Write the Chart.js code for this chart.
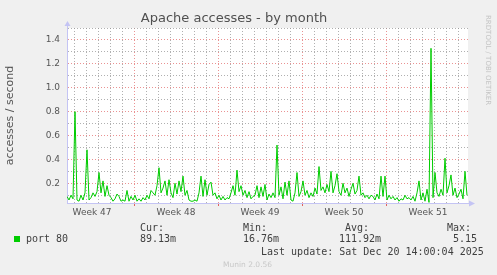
<!DOCTYPE html>
<html lang="en">
<head>
<meta charset="UTF-8">
<title>Apache accesses - by month</title>
<script src="https://cdn.jsdelivr.net/npm/chart.js"></script>
<style>
  body { margin: 0; background: #f0f0f0; }
  #wrap { position: relative; width: 497px; height: 275px; background: #f0f0f0; overflow: hidden; }
  #wrap canvas { position: absolute; left: 0; top: 0; }
  .t { position: absolute; white-space: pre; line-height: 12px; }
  .mono { font-family: 'DejaVu Sans Mono', monospace; font-size: 10px; color: #404040; }
  .swatch { position: absolute; left: 14px; top: 236px; width: 6px; height: 6px; background: #00cc00; }
  .brand { position: absolute; left: 484px; top: 15px; writing-mode: vertical-rl; font-family: 'DejaVu Sans', sans-serif; font-size: 7px; color: #c4c4c4; white-space: pre; }
  .munin { font-family: 'DejaVu Sans', sans-serif; font-size: 7.5px; color: #c8c8c8; }
</style>
</head>
<body>
<div id="wrap">
  <canvas id="grafico" width="497" height="275"></canvas>
  <div class="brand">RRDTOOL / TOBI OETIKER</div>
  <div class="t mono" style="left:140px; top:222px;">Cur:</div>
  <div class="t mono" style="left:243px; top:222px;">Min:</div>
  <div class="t mono" style="left:345px; top:222px;">Avg:</div>
  <div class="t mono" style="left:447px; top:222px;">Max:</div>
  <div class="swatch"></div>
  <div class="t mono" style="left:26px; top:233px;">port 80</div>
  <div class="t mono" id="cur" style="left:140px; top:233px;"></div>
  <div class="t mono" id="min" style="left:243px; top:233px;"></div>
  <div class="t mono" id="avg" style="left:339px; top:233px;"></div>
  <div class="t mono" id="max" style="left:453px; top:233px;"></div>
  <div class="t mono" style="left:261px; top:246px;">Last update: Sat Dec 20 14:00:04 2025</div>
  <div class="t munin" style="left:223px; top:259px;">Munin 2.0.56</div>
</div>

<script>
    // dados (um ponto a cada 4 horas)
    const stepHours = 4;
    const spanHours = 802;
    const weekLabels = ['Week 47', 'Week 48', 'Week 49', 'Week 50', 'Week 51'];
    const weekMidHours = [50, 218, 386, 554, 722];
    const weekStartHours = [134, 302, 470, 638];
    const firstDayHour = 14;
    const yTicks = [0.1, 0.2, 0.3, 0.4, 0.5, 0.6, 0.7, 0.8, 0.9, 1.0, 1.1, 1.2, 1.3, 1.4, 1.5];
    const legendValues = { cur: '89.13m', min: '16.76m', avg: '111.92m', max: '5.15' };

    const accesses = [
        0.09, 0.06, 0.10, 0.07, 0.80, 0.06, 0.05, 0.10, 0.06, 0.12,
        0.48, 0.06, 0.08, 0.12, 0.09, 0.13, 0.29, 0.12, 0.22, 0.09,
        0.18, 0.10, 0.08, 0.05, 0.07, 0.11, 0.09, 0.05, 0.06, 0.05,
        0.14, 0.05, 0.09, 0.06, 0.10, 0.05, 0.07, 0.05, 0.08, 0.06,
        0.10, 0.07, 0.14, 0.12, 0.10, 0.18, 0.33, 0.12, 0.16, 0.22,
        0.10, 0.23, 0.12, 0.08, 0.20, 0.11, 0.22, 0.13, 0.26, 0.10,
        0.14, 0.06, 0.05, 0.05, 0.06, 0.05, 0.12, 0.26, 0.09, 0.23,
        0.10, 0.19, 0.21, 0.10, 0.12, 0.07, 0.10, 0.06, 0.09, 0.06,
        0.08, 0.07, 0.12, 0.18, 0.10, 0.31, 0.13, 0.18, 0.10, 0.14,
        0.08, 0.13, 0.07, 0.09, 0.10, 0.18, 0.08, 0.17, 0.09, 0.19,
        0.06, 0.11, 0.08, 0.12, 0.08, 0.52, 0.10, 0.17, 0.07, 0.21,
        0.10, 0.22, 0.06, 0.05, 0.12, 0.29, 0.09, 0.13, 0.22, 0.10,
        0.14, 0.08, 0.12, 0.09, 0.16, 0.11, 0.34, 0.14, 0.17, 0.12,
        0.19, 0.13, 0.30, 0.12, 0.18, 0.28, 0.13, 0.10, 0.20, 0.12,
        0.16, 0.09, 0.15, 0.20, 0.11, 0.14, 0.26, 0.10, 0.12, 0.08,
        0.10, 0.07, 0.10, 0.09, 0.06, 0.11, 0.07, 0.26, 0.09, 0.26,
        0.06, 0.10, 0.07, 0.09, 0.06, 0.08, 0.05, 0.07, 0.06, 0.10,
        0.07, 0.08, 0.06, 0.09, 0.05, 0.12, 0.22, 0.06, 0.12, 0.05,
        0.15, 0.04, 1.33, 0.08, 0.29, 0.12, 0.09, 0.15, 0.10, 0.41,
        0.12, 0.18, 0.27, 0.10, 0.16, 0.08, 0.11, 0.15, 0.07, 0.30,
        0.10
    ];

    Object.keys(legendValues).forEach(k => {
        document.getElementById(k).innerText = legendValues[k];
    });

    const corMinor = 'rgba(150,150,150,0.75)';
    const corMajor = 'rgba(225,100,100,0.7)';
    const corEixo = '#c4c4f4';
    const fonte = "'DejaVu Sans', sans-serif";

    const xTicks = [];
    for (let h = firstDayHour; h < spanHours; h += 24) xTicks.push(h);
    weekMidHours.forEach(h => xTicks.push(h));
    xTicks.sort((a, b) => a - b);

    const isMajorY = v => Math.round(v * 10) % 2 === 0;

    // fundo branco da area do grafico + setas dos eixos
    const munin = {
        id: 'munin',
        beforeDraw(chart) {
            const { ctx, chartArea: a } = chart;
            ctx.save();
            ctx.fillStyle = '#ffffff';
            ctx.fillRect(a.left, a.top, a.right - a.left, a.bottom - a.top);
            ctx.restore();
        },
        afterDraw(chart) {
            const { ctx, chartArea: a } = chart;
            ctx.save();
            ctx.strokeStyle = corEixo;
            ctx.fillStyle = corEixo;
            ctx.lineWidth = 1;
            ctx.beginPath();
            ctx.moveTo(a.left + 0.5, a.top);
            ctx.lineTo(a.left + 0.5, a.top - 3);
            ctx.moveTo(a.right, a.bottom + 0.5);
            ctx.lineTo(a.right + 2, a.bottom + 0.5);
            ctx.stroke();
            ctx.beginPath();
            ctx.moveTo(a.left + 0.5, a.top - 7);
            ctx.lineTo(a.left - 2.5, a.top - 2);
            ctx.lineTo(a.left + 3.5, a.top - 2);
            ctx.fill();
            ctx.beginPath();
            ctx.moveTo(a.right + 7, a.bottom + 0.5);
            ctx.lineTo(a.right + 1, a.bottom - 2.5);
            ctx.lineTo(a.right + 1, a.bottom + 3.5);
            ctx.fill();
            ctx.restore();
        }
    };

    new Chart(document.getElementById('grafico'), {
        type: 'line',
        data: {
            datasets: [{
                label: 'port 80',
                data: accesses.map((v, i) => ({ x: i * stepHours, y: v })),
                borderColor: '#00cc00',
                borderWidth: 1,
                pointRadius: 0,
                tension: 0
            }]
        },
        options: {
            responsive: false,
            animation: false,
            devicePixelRatio: 1,
            layout: { padding: { left: 0, top: 0, right: 29, bottom: 52 } },
            plugins: {
                legend: { display: false },
                tooltip: { enabled: false },
                title: {
                    display: true,
                    text: 'Apache accesses - by month',
                    color: '#505050',
                    font: { family: fonte, size: 13, weight: 'normal' },
                    padding: { top: 11, bottom: 1.4 }
                }
            },
            scales: {
                x: {
                    type: 'linear',
                    min: 0,
                    max: spanHours,
                    afterBuildTicks: s => { s.ticks = xTicks.map(v => ({ value: v })); },
                    afterFit: s => { s.height = 20; },
                    border: { color: corEixo, dash: [1, 2] },
                    grid: {
                        color: c => weekMidHours.includes(c.tick.value) ? 'rgba(0,0,0,0)' :
                            (weekStartHours.includes(c.tick.value) ? corMajor : corMinor),
                        tickColor: c => weekStartHours.includes(c.tick.value) ? '#e06060' : 'rgba(0,0,0,0)',
                        tickLength: 3
                    },
                    ticks: {
                        autoSkip: false,
                        maxRotation: 0,
                        padding: 1,
                        color: '#555',
                        font: { family: fonte, size: 9 },
                        callback: v => {
                            const i = weekMidHours.indexOf(v);
                            return i >= 0 ? weekLabels[i] : '';
                        }
                    }
                },
                y: {
                    min: 0.035,
                    max: 1.5,
                    afterBuildTicks: s => { s.ticks = yTicks.map(v => ({ value: v })); },
                    afterFit: s => { s.width = 67; },
                    border: { color: corEixo, dash: [1, 2] },
                    grid: {
                        color: c => isMajorY(c.tick.value) ? corMajor : corMinor,
                        drawTicks: false
                    },
                    ticks: {
                        autoSkip: false,
                        padding: 7,
                        color: '#555',
                        font: { family: fonte, size: 9 },
                        callback: v => isMajorY(v) ? v.toFixed(1) : ''
                    },
                    title: {
                        display: true,
                        text: 'accesses / second',
                        color: '#555',
                        font: { family: fonte, size: 11 },
                        padding: { top: 4, bottom: 0 }
                    }
                }
            }
        },
        plugins: [munin]
    });
</script>
</body>
</html>
